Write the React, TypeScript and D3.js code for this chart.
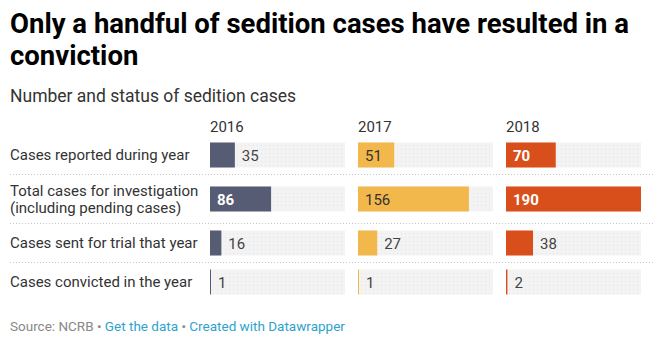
import React from "react";
import * as d3 from "d3";

const years = ["2016", "2017", "2018"];
const categories = [
  ["Cases reported during year"],
  ["Total cases for investigation", "(including pending cases)"],
  ["Cases sent for trial that year"],
  ["Cases convicted in the year"],
];
const values2016 = [35, 86, 16, 1];
const values2017 = [51, 156, 27, 1];
const values2018 = [70, 190, 38, 2];
const seriesValues = [values2016, values2017, values2018];
const colors = ["#575c75", "#f2b84c", "#d84f1b"];
const insideText = ["#ffffff", "#333333", "#ffffff"];
const insideBold = [true, false, true];

const W = 664;
const H = 347;

export default function App() {
  const font = "Roboto, 'Noto Sans', sans-serif";
  const x = d3.scaleBand<string>().domain(years).range([210, 641]).paddingInner(13 / 148);
  const w = d3.scaleLinear().domain([0, 190]).range([0, x.bandwidth()]);

  const rowH = categories.map((c) => (c.length > 1 ? 49 : 39));
  const rowTop: number[] = [];
  let acc = 135;
  rowH.forEach((h) => {
    rowTop.push(acc);
    acc += h;
  });
  const barH = 25;

  return (
    <svg width={W} height={H} style={{ position: "absolute", left: 0, top: 0, background: "#fff" }}>
      <defs>
        <pattern id="dots" width="4" height="4" patternUnits="userSpaceOnUse">
          <rect width="4" height="4" fill="#f3f3f3" />
          <rect x="1" y="1" width="1" height="1" fill="#e4e4e4" />
        </pattern>
      </defs>
      <text x={10} y={33} fontFamily={font} fontWeight={700} fontSize={27.5} fill="#000">
        Only a handful of sedition cases have resulted in a
      </text>
      <text x={10} y={65} fontFamily={font} fontWeight={700} fontSize={27.5} fill="#000">
        conviction
      </text>
      <text x={10} y={102} fontFamily={font} fontSize={17.5} fill="#333">
        Number and status of sedition cases
      </text>
      {years.map((yr) => (
        <text key={yr} x={x(yr)} y={132} fontFamily={font} fontSize={15} fill="#333">
          {yr}
        </text>
      ))}
      {categories.map((lines, i) => {
        const top = rowTop[i];
        const cy = top + rowH[i] / 2 + 0.5;
        const by = cy - barH / 2;
        return (
          <g key={i}>
            {i > 0 && (
              <line x1={10} x2={654} y1={top + 0.5} y2={top + 0.5} stroke="#c8c8c8" strokeWidth={1} strokeDasharray="1 2" />
            )}
            {lines.map((ln, j) => (
              <text
                key={j}
                x={10}
                y={cy + 5 + (j - (lines.length - 1) / 2) * 17}
                fontFamily={font}
                fontSize={15}
                fill="#333"
              >
                {ln}
              </text>
            ))}
            {years.map((yr, k) => {
              const v = seriesValues[k][i];
              const x0 = x(yr) as number;
              const bw = Math.max(w(v), 1);
              const inside = bw > 34;
              return (
                <g key={yr}>
                  <rect x={x0} y={by} width={x.bandwidth()} height={barH} fill="url(#dots)" />
                  <rect x={x0} y={by} width={bw} height={barH} fill={colors[k]} />
                  <text
                    x={inside ? x0 + 7 : x0 + bw + 7}
                    y={cy + 5.5}
                    fontFamily={font}
                    fontSize={15}
                    fontWeight={inside && insideBold[k] ? 700 : 400}
                    fill={inside ? insideText[k] : "#444"}
                  >
                    {v}
                  </text>
                </g>
              );
            })}
          </g>
        );
      })}
      <text x={10} y={331} fontFamily={font} fontSize={13.5} fill="#888">
        <tspan>Source: NCRB • </tspan>
        <tspan fill="#2ea3cc">Get the data</tspan>
        <tspan> • </tspan>
        <tspan fill="#2ea3cc">Created with Datawrapper</tspan>
      </text>
    </svg>
  );
}
